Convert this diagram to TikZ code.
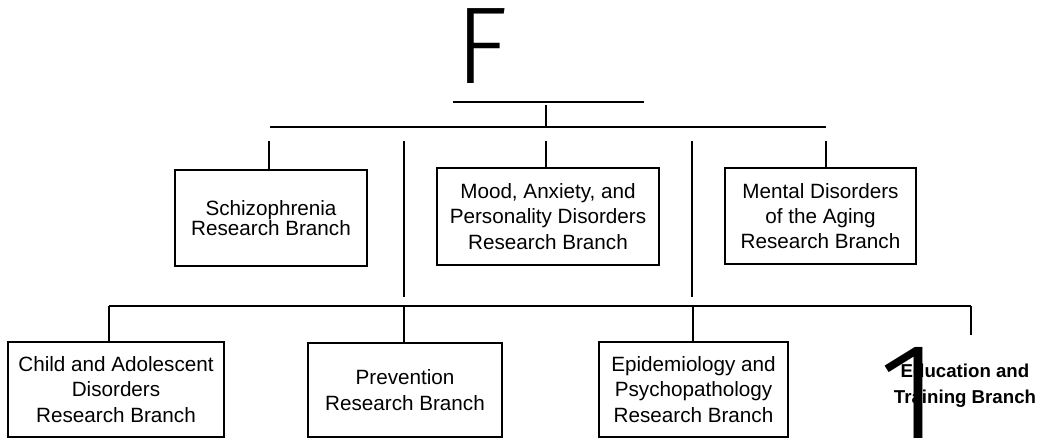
\documentclass[tikz,border=0pt]{standalone}
\usepackage{fontspec}
\setmainfont{Liberation Sans}
\newfontfamily\thinfont{Fira Sans Light}
\begin{document}
\begin{tikzpicture}[x=0.75pt,y=-0.75pt,
	branch/.style={draw, line width=1.2pt, align=center, inner sep=0pt,
		font=\fontsize{15.5}{19}\selectfont},
	link/.style={line width=1.2pt}]
	\useasboundingbox (0,0) rectangle (1040,438);
	% heading
	\node[font=\thinfont\fontsize{82}{82}\selectfont, inner sep=0pt] (F) at (482,46) {F};
	\path (453,102) coordinate (hdL) (644,102) coordinate (hdR)
	(546,105) coordinate (hd) (270,127) coordinate (upL) (826,127) coordinate (upR)
	(109,306) coordinate (loL) (971,306) coordinate (loR);
	% branches
	\node[branch, minimum width=144pt, minimum height=72pt,
		font=\fontsize{15.5}{15.5}\selectfont] (sch) at (271,218) {Schizophrenia\\Research Branch};
	\node[branch, minimum width=166.5pt, minimum height=72.75pt] (mood) at (548,216.5)
		{Mood, Anxiety, and\\Personality Disorders\\Research Branch};
	\node[branch, minimum width=143.25pt, minimum height=72pt] (aging) at (820.5,216)
		{Mental Disorders\\of the Aging\\Research Branch};
	\node[branch, minimum width=162pt, minimum height=71.25pt] (child) at (116,389.5)
		{Child and Adolescent\\Disorders\\Research Branch};
	\node[branch, minimum width=145.5pt, minimum height=70.5pt] (prev) at (405,390)
		{Prevention\\Research Branch};
	\node[branch, minimum width=141.75pt, minimum height=71.25pt] (epi) at (693.5,389.5)
		{Epidemiology and\\Psychopathology\\Research Branch};
	\node[align=center, inner sep=0pt, font=\bfseries\fontsize{14}{19.5}\selectfont] (edu)
		at (965,386) {Education and\\Training Branch};
	\node[font=\thinfont\fontsize{114}{114}\selectfont, inner sep=0pt, anchor=north] (one)
		at (910,347) {1};
	% lines
	\draw[link] (hdL)--(hdR) (hd)--(hd |- upL) (upL)--(upR) (loL)--(loR);
	\foreach \b/\x in {sch/269, mood/546, aging/826}
	\draw[link] (\x,141) coordinate (d)--(d |- \b.north);
	\foreach \x in {404, 692}
	\draw[link] (\x,141) coordinate (d)--(\x,297);
	\foreach \b/\x in {child/109, prev/404, epi/693}
	\draw[link] (\x,306) coordinate (d)--(d |- \b.north);
	\draw[link] (loR)--++(0,29) coordinate (eduTop);
\end{tikzpicture}
\end{document}
